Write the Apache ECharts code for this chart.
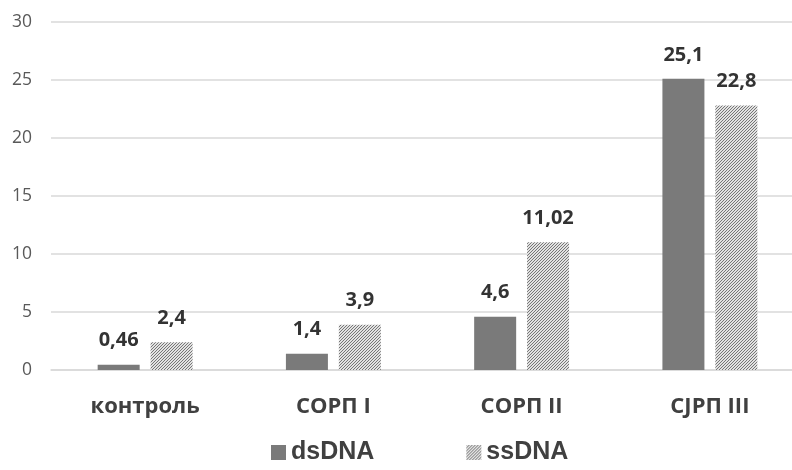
<!DOCTYPE html>
<html><head><meta charset="utf-8">
<script src="https://cdn.jsdelivr.net/npm/echarts@6/dist/echarts.min.js"></script>
<style>html,body{margin:0;padding:0;background:#fff}#c{width:792px;height:470px}</style>
</head><body><div id="c"></div>
<script>
const categories = ['контроль', 'СОРП I', 'СОРП II', 'СЈРП III'];
const dsDNA = [0.46, 1.4, 4.6, 25.1];
const ssDNA = [2.4, 3.9, 11.02, 22.8];
const yTicks = [0, 5, 10, 15, 20, 25, 30];

function hatch() {
  const c = document.createElement('canvas');
  c.width = 3; c.height = 3;
  const g = c.getContext('2d');
  g.fillStyle = '#e2e2e2'; g.fillRect(0, 0, 3, 3);
  g.fillStyle = '#767676';
  g.fillRect(0, 2, 1, 1); g.fillRect(1, 1, 1, 1); g.fillRect(2, 0, 1, 1);
  return c;
}
const pat = { image: hatch(), repeat: 'repeat' };

const fmt = p => String(p.value).replace('.', ',');
const lbl = { show: true, position: 'top', distance: 14, formatter: fmt,
  fontFamily: 'Open Sans', fontWeight: 'bold', fontSize: 20, color: '#333' };

const chart = echarts.init(document.getElementById('c'));
chart.setOption({
  animation: false,
  grid: { left: 51, width: 753, top: 22, bottom: 100, outerBoundsMode: 'none', containLabel: false },
  xAxis: {
    type: 'category', data: categories,
    axisLine: { lineStyle: { color: '#d9d9d9', width: 1.5 } },
    axisTick: { show: false },
    axisLabel: { margin: 26, fontFamily: 'Open Sans', fontWeight: 'bold', fontSize: 22, color: '#404040' }
  },
  yAxis: {
    type: 'value', min: yTicks[0], max: yTicks[yTicks.length - 1], interval: 5,
    axisLine: { show: false }, axisTick: { show: false },
    splitLine: { lineStyle: { color: '#d9d9d9', width: 1.5 } },
    axisLabel: { margin: 19, fontFamily: 'Open Sans', fontSize: 17.5, color: '#595959' }
  },
  legend: {
    bottom: 0, left: 266, itemGap: 92, itemWidth: 15, itemHeight: 15,
    icon: 'rect',
    textStyle: { fontFamily: 'Liberation Sans', fontWeight: 'bold', fontSize: 25, color: '#404040' },
    data: ['dsDNA', 'ssDNA']
  },
  series: [
    { name: 'dsDNA', type: 'bar', data: dsDNA, barWidth: 42, barGap: '26%',
      itemStyle: { color: '#7a7a7a' }, label: lbl },
    { name: 'ssDNA', type: 'bar', data: ssDNA, barWidth: 42,
      itemStyle: { color: pat }, label: lbl }
  ]
});
</script></body></html>
